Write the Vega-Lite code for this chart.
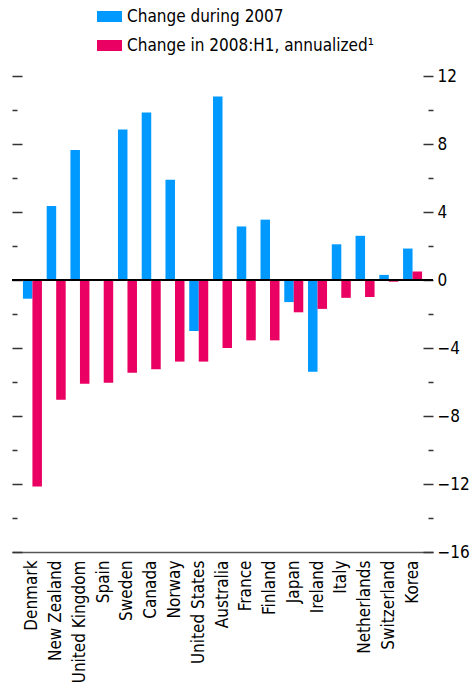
{
  "$schema": "https://vega.github.io/schema/vega-lite/v6.json",
  "width": 421,
  "height": 476,
  "autosize": {"type": "none"},
  "padding": {"left": 12, "top": 76, "right": 39, "bottom": 140},
  "config": {"view": {"stroke": null}, "font": "'Liberation Sans Narrow', 'DejaVu Sans Condensed', 'Roboto Condensed', Roboto"},
  "data": {"values": [
    {"country": "Denmark", "series": "Change during 2007", "value": -1.1},
    {"country": "Denmark", "series": "Change in 2008:H1, annualized¹", "value": -12.15},
    {"country": "New Zealand", "series": "Change during 2007", "value": 4.35},
    {"country": "New Zealand", "series": "Change in 2008:H1, annualized¹", "value": -7.05},
    {"country": "United Kingdom", "series": "Change during 2007", "value": 7.65},
    {"country": "United Kingdom", "series": "Change in 2008:H1, annualized¹", "value": -6.1},
    {"country": "Spain", "series": "Change during 2007", "value": 0.05},
    {"country": "Spain", "series": "Change in 2008:H1, annualized¹", "value": -6.05},
    {"country": "Sweden", "series": "Change during 2007", "value": 8.85},
    {"country": "Sweden", "series": "Change in 2008:H1, annualized¹", "value": -5.45},
    {"country": "Canada", "series": "Change during 2007", "value": 9.85},
    {"country": "Canada", "series": "Change in 2008:H1, annualized¹", "value": -5.25},
    {"country": "Norway", "series": "Change during 2007", "value": 5.9},
    {"country": "Norway", "series": "Change in 2008:H1, annualized¹", "value": -4.8},
    {"country": "United States", "series": "Change during 2007", "value": -3.0},
    {"country": "United States", "series": "Change in 2008:H1, annualized¹", "value": -4.8},
    {"country": "Australia", "series": "Change during 2007", "value": 10.8},
    {"country": "Australia", "series": "Change in 2008:H1, annualized¹", "value": -4.0},
    {"country": "France", "series": "Change during 2007", "value": 3.15},
    {"country": "France", "series": "Change in 2008:H1, annualized¹", "value": -3.55},
    {"country": "Finland", "series": "Change during 2007", "value": 3.55},
    {"country": "Finland", "series": "Change in 2008:H1, annualized¹", "value": -3.55},
    {"country": "Japan", "series": "Change during 2007", "value": -1.3},
    {"country": "Japan", "series": "Change in 2008:H1, annualized¹", "value": -1.9},
    {"country": "Ireland", "series": "Change during 2007", "value": -5.4},
    {"country": "Ireland", "series": "Change in 2008:H1, annualized¹", "value": -1.7},
    {"country": "Italy", "series": "Change during 2007", "value": 2.1},
    {"country": "Italy", "series": "Change in 2008:H1, annualized¹", "value": -1.05},
    {"country": "Netherlands", "series": "Change during 2007", "value": 2.6},
    {"country": "Netherlands", "series": "Change in 2008:H1, annualized¹", "value": -1.0},
    {"country": "Switzerland", "series": "Change during 2007", "value": 0.3},
    {"country": "Switzerland", "series": "Change in 2008:H1, annualized¹", "value": -0.1},
    {"country": "Korea", "series": "Change during 2007", "value": 1.85},
    {"country": "Korea", "series": "Change in 2008:H1, annualized¹", "value": 0.5}
  ]},
  "layer": [
    {
      "mark": {"type": "bar"},
      "encoding": {
        "x": {
          "field": "country", "type": "nominal", "sort": null,
          "scale": {"paddingInner": 0.2, "paddingOuter": 0.46},
          "axis": {
            "title": null, "labelAngle": -90, "labelAlign": "right", "labelBaseline": "middle",
            "labelFontSize": 17, "labelColor": "black", "ticks": false,
            "domainColor": "#555555", "domainWidth": 1.5, "labelPadding": 8
          }
        },
        "xOffset": {"field": "series", "type": "nominal", "sort": null},
        "y": {
          "field": "value", "type": "quantitative",
          "scale": {"domain": [-16, 12], "nice": false, "zero": false},
          "axis": {
            "orient": "right", "title": null, "grid": false, "domain": false,
            "values": [-16, -14, -12, -10, -8, -6, -4, -2, 0, 2, 4, 6, 8, 10, 12],
            "labelExpr": "datum.value % 4 == 0 ? datum.label : ''",
            "tickSize": {"condition": {"test": "datum.value % 4 == 0", "value": -10}, "value": -5},
            "tickColor": "#333333", "tickWidth": 1.5,
            "labelFontSize": 17, "labelColor": "black", "labelPadding": 14
          }
        },
        "color": {
          "field": "series", "type": "nominal", "sort": null,
          "scale": {"range": ["#0099FF", "#EA0062"]},
          "legend": {
            "title": null, "orient": "none", "legendX": 85, "legendY": -72,
            "direction": "vertical", "padding": 0,
            "symbolType": "M-1,-0.44H1V0.44H-1Z", "symbolSize": 625, "symbolStrokeWidth": 0,
            "labelFontSize": 17, "labelColor": "black", "labelOffset": 5, "rowPadding": 8, "labelLimit": 400
          }
        }
      }
    },
    {
      "mark": {"type": "rule", "color": "black", "strokeWidth": 1.5},
      "encoding": {
        "y": {
          "datum": 0, "type": "quantitative",
          "axis": {
            "orient": "left", "title": null, "grid": false, "domain": false, "labels": false,
            "values": [-16, -14, -12, -10, -8, -6, -4, -2, 0, 2, 4, 6, 8, 10, 12],
            "tickSize": {"condition": {"test": "datum.value % 4 == 0", "value": -10}, "value": -5},
            "tickColor": "#333333", "tickWidth": 1.5
          }
        }
      }
    }
  ],
  "resolve": {"axis": {"y": "independent"}}
}
